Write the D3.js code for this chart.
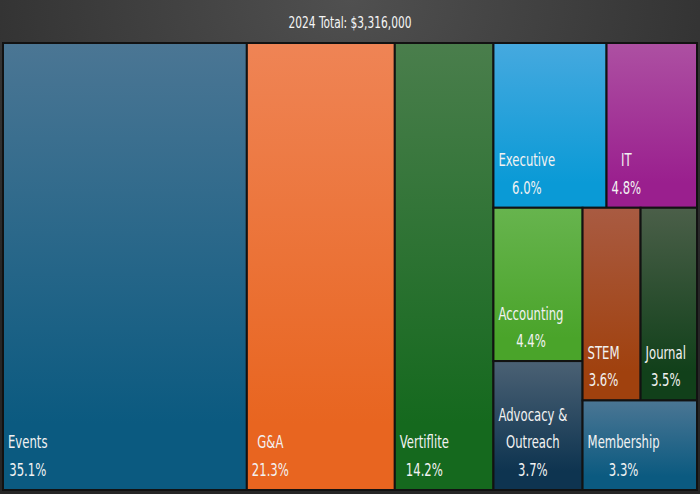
<!DOCTYPE html>
<html>
<head>
<meta charset="utf-8">
<script src="https://cdn.jsdelivr.net/npm/d3@7"></script>
<style>
  html, body { margin: 0; padding: 0; background: #2c2c2c; }
  svg { display: block; }
  text { font-family: "DejaVu Sans Condensed", "DejaVu Sans", "Noto Sans", sans-serif; }
</style>
</head>
<body>
<svg id="chart" width="700" height="494"></svg>
<script>
// ---- data ----
const categories = ["Events", "G&A", "Vertiflite", "Executive", "IT", "Accounting",
                    "Advocacy & Outreach", "STEM", "Journal", "Membership"];
const shares = [35.1, 21.3, 14.2, 6.0, 4.8, 4.4, 3.7, 3.6, 3.5, 3.3];
const totalLabel = "2024 Total: $3,316,000";
// nesting of the tiles (order of splitting), by category name
const layoutGroups = ["Events", "G&A", "Vertiflite",
  [["Executive", "IT"],
   [["Accounting", "Advocacy & Outreach"],
    [["STEM", "Journal"], "Membership"]]]];

// ---- palette (top / bottom of each tile gradient) ----
const topColors    = ["#4b7694", "#ef8455", "#4a7e4c", "#46a9df", "#ad50a2", "#67b44e", "#4b6174", "#a95b42", "#4b5f49", "#4b7694"];
const bottomColors = ["#0b5a80", "#e86520", "#15691e", "#0a9ad6", "#9a1f8e", "#4aa42a", "#0e3450", "#a0410e", "#11401a", "#0b5a80"];

const W = 700, H = 494;
const svg = d3.select("#chart");
const defs = svg.append("defs");

// background
const bg = defs.append("radialGradient").attr("id", "bg")
  .attr("cx", "50%").attr("cy", "0%").attr("r", "75%");
bg.append("stop").attr("offset", "0%").attr("stop-color", "#505050");
bg.append("stop").attr("offset", "100%").attr("stop-color", "#262626");
svg.append("rect").attr("width", W).attr("height", H).attr("fill", "url(#bg)");

categories.forEach((c, i) => {
  const g = defs.append("linearGradient").attr("id", "g" + i)
    .attr("x1", 0).attr("y1", 0).attr("x2", 0).attr("y2", 1);
  g.append("stop").attr("offset", "0%").attr("stop-color", topColors[i]);
  g.append("stop").attr("offset", "85%").attr("stop-color", bottomColors[i]);
  g.append("stop").attr("offset", "100%").attr("stop-color", bottomColors[i]);
});

function build(node) {
  if (typeof node === "string") {
    const idx = categories.indexOf(node);
    return { name: node, idx: idx, value: shares[idx] };
  }
  return { children: node.map(build) };
}
const root = d3.hierarchy({ children: layoutGroups.map(build) })
  .sum(d => d.value || 0);

const X0 = 3, Y0 = 43, TW = 694, TH = 447;
d3.treemap().tile(d3.treemapSliceDice).size([TW, TH]).round(false)(root);

const plot = svg.append("g").attr("transform", `translate(${X0},${Y0})`);

const leaves = root.leaves();
const cell = plot.selectAll("g.cell").data(leaves).join("g").attr("class", "cell");

cell.append("rect")
  .attr("x", d => d.x0).attr("y", d => d.y0)
  .attr("width", d => d.x1 - d.x0).attr("height", d => d.y1 - d.y0)
  .attr("fill", d => `url(#g${d.data.idx})`)
  .attr("stroke", "#121212").attr("stroke-width", 2);

plot.append("rect").attr("x", 0).attr("y", 0).attr("width", TW).attr("height", TH)
  .attr("fill", "none").attr("stroke", "#121212").attr("stroke-width", 2);

// labels (condensed look via horizontal scaling)
const FS = 18, LH = 27.5, SX = 0.72;
const measurer = svg.append("text").attr("font-size", FS).attr("visibility", "hidden");
function tw(s) { measurer.text(s); return measurer.node().getComputedTextLength() * SX; }
function wrap(s, maxW) {
  const words = s.split(" ");
  const lines = [];
  let cur = "";
  words.forEach(w => {
    const t = cur ? cur + " " + w : w;
    if (cur && tw(t) > maxW) { lines.push(cur); cur = w; } else cur = t;
  });
  if (cur) lines.push(cur);
  return lines;
}

cell.each(function(d) {
  const lines = wrap(d.data.name, d.x1 - d.x0 - 8);
  lines.push(shares[d.data.idx].toFixed(1) + "%");
  const bw = d3.max(lines, tw);
  const cx = d.x0 + 5 + bw / 2;
  const lastY = d.y1 - 14;
  const t = d3.select(this).append("g")
    .attr("transform", `translate(${cx},0) scale(${SX},1)`)
    .append("text")
    .attr("font-size", FS).attr("fill", "#f2f2f2").attr("text-anchor", "middle");
  lines.forEach((l, k) => {
    t.append("tspan").attr("x", 0).attr("y", lastY - (lines.length - 1 - k) * LH).text(l);
  });
});
measurer.remove();

svg.append("g").attr("transform", `translate(${W / 2},0) scale(0.74,1)`)
  .append("text").attr("x", 0).attr("y", 28)
  .attr("text-anchor", "middle").attr("font-size", 16).attr("fill", "#f5f5f5")
  .text(totalLabel);
</script>
</body>
</html>
